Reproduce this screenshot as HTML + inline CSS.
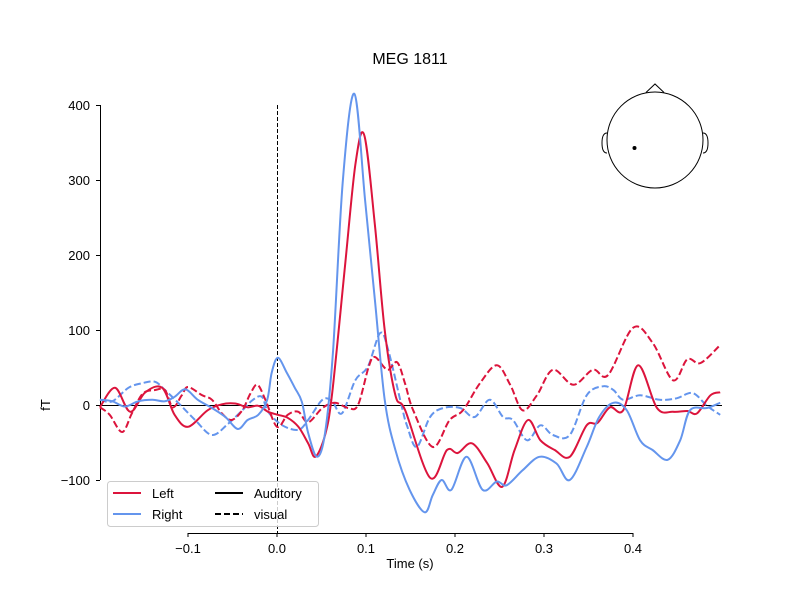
<!DOCTYPE html>
<html><head><meta charset="utf-8"><style>
body{margin:0;background:#fff}
svg{display:block;font-family:"Liberation Sans","DejaVu Sans",sans-serif}
</style></head><body>
<svg id="chart" width="800" height="600" viewBox="0 0 800 600">
<rect width="800" height="600" fill="#fff"/>
<text x="410" y="64" font-size="16" text-anchor="middle">MEG 1811</text>
<g id="axes"></g>
<g id="series"></g>
<g>
<rect x="107.5" y="481.5" width="211" height="45" rx="3" fill="#fff" fill-opacity="0.8" stroke="#ccc"/>
<line x1="113" y1="493" x2="141" y2="493" stroke="#dc143c" stroke-width="2"/>
<text x="152" y="498" font-size="13">Left</text>
<line x1="113" y1="514" x2="141" y2="514" stroke="#6495ed" stroke-width="2"/>
<text x="152" y="519" font-size="13">Right</text>
<line x1="215" y1="493" x2="243" y2="493" stroke="#000" stroke-width="2"/>
<text x="254" y="498" font-size="13">Auditory</text>
<line x1="215" y1="514" x2="243" y2="514" stroke="#000" stroke-width="2" stroke-dasharray="6,3"/>
<text x="254" y="519" font-size="13">visual</text>
</g>
<g fill="none" stroke="#000" stroke-width="1">
<circle cx="655" cy="140" r="48"/>
<path d="M646,92.5 L655,84 L664,92.5"/>
<path d="M607,133 Q602,133 602,143 Q602,153 607,153"/>
<path d="M703,133 Q708,133 708,143 Q708,153 703,153"/>
<circle cx="634.5" cy="148" r="2" fill="#000" stroke="none"/>
</g>
</svg>
<script>
const xTicks=[-0.1,0,0.1,0.2,0.3,0.4];
const yTicks=[-100,0,100,200,300,400];
const leftAudT=[-199,-182,-165,-148,-129,-115,-100,-78,-62,-47,-33,-21,-10,1,12,24,35,43,54,62,76,88,98,110,121,133,144,172,191,203,219,236,253,267,282,296,312,329,348,360,374,389,406,427,445,461,472,487,498];
const leftAudV=[-3,23,-9,17,23,-13,-29,-7,1,2,-3,-1,-9,-13,-17,-29,-51,-69,-40,16,180,320,360,240,100,13,-7,-97,-60,-64,-51,-77,-109,-60,-20,-47,-60,-69,-27,-24,-3,-7,53,-4,-9,-8,-11,13,17];
const rightAudT=[-199,-185,-171,-156,-140,-126,-115,-103,-89,-73,-58,-44,-33,-21,-11,-6,1,11,20,28,35,45,54,63,74,87,99,110,121,133,149,166,175,185,196,213,231,247,258,276,295,314,329,348,362,378,393,408,422,439,453,464,483,498];
const rightAudV=[7,5,-2,5,7,5,11,21,7,-4,-16,-32,-20,-13,7,43,63,43,23,4,-37,-69,-37,73,300,415,273,140,7,-60,-113,-143,-120,-100,-113,-69,-113,-102,-107,-87,-69,-78,-100,-56,-16,3,-7,-47,-60,-73,-47,-7,-4,3];
const leftVisT=[-199,-188,-174,-163,-151,-137,-126,-117,-107,-100,-84,-73,-62,-51,-39,-30,-22,-13,0,12,24,35,51,65,80,91,103,110,124,135,144,153,175,194,209,228,247,262,276,292,310,333,355,372,400,422,445,461,476,498];
const leftVisV=[-3,-13,-36,-11,15,20,20,-3,13,24,13,7,-11,-20,-7,15,27,7,-29,-13,-9,-23,-4,3,-4,0,51,64,47,57,28,-7,-56,-20,-7,29,53,27,-7,13,47,27,47,40,103,83,33,61,56,80];
const rightVisT=[-199,-185,-167,-152,-137,-126,-111,-92,-73,-55,-39,-27,-17,-10,6,24,35,51,62,73,88,102,116,125,140,146,157,172,187,206,222,239,254,265,281,296,310,329,348,366,378,389,408,430,449,467,483,498];
const rightVisV=[7,5,23,29,31,20,3,-20,-40,-25,-7,7,11,-9,-27,-33,-20,7,5,-11,33,51,96,73,-1,-27,-56,-16,-4,-4,-16,7,-16,-20,-47,-27,-40,-40,13,25,20,7,13,7,9,16,-1,-13];

const NS='http://www.w3.org/2000/svg';
const X=t=>277+t*890;
const Y=v=>405-v*0.75;
function mk(tag,attrs,parent){const e=document.createElementNS(NS,tag);for(const k in attrs)e.setAttribute(k,attrs[k]);parent.appendChild(e);return e;}
const axes=document.getElementById('axes');
let s=mk('line',{x1:100.5,y1:Y(400),x2:100.5,y2:Y(-100),stroke:'#000','stroke-width':1},axes);


s=mk('line',{x1:X(-0.1),y1:533.5,x2:X(0.4),y2:533.5,stroke:'#000','stroke-width':1},axes);


s=mk('line',{x1:100,y1:Y(0)+0.5,x2:722,y2:Y(0)+0.5,stroke:'#000','stroke-width':1},axes);


s=mk('line',{x1:X(0)+0.5,y1:Y(400),x2:X(0)+0.5,y2:533,stroke:'#000','stroke-width':1,'stroke-dasharray':'4,2'},axes);


yTicks.forEach(v=>{
  mk('line',{x1:96,y1:Y(v)+0.5,x2:100,y2:Y(v)+0.5,stroke:'#000'},axes);
  const t=mk('text',{x:90,y:Y(v)+5,'font-size':13,'text-anchor':'end'},axes);
  t.textContent=v<0?'\u2212'+(-v):String(v);
  
  
});
xTicks.forEach(v=>{
  mk('line',{x1:X(v),y1:533,x2:X(v),y2:537,stroke:'#000'},axes);
  const t=mk('text',{x:X(v),y:553,'font-size':13,'text-anchor':'middle'},axes);
  t.textContent=v<0?'\u2212'+(-v).toFixed(1):v.toFixed(1);
  
  
});
let lb=mk('text',{x:410,y:568,'font-size':13,'text-anchor':'middle'},axes);
lb.textContent='Time (s)';


lb=mk('text',{x:50,y:405,'font-size':13,'text-anchor':'middle',transform:'rotate(-90 50 405)'},axes);
lb.textContent='fT';



function path(ts,vs){
  const p=ts.map((t,i)=>[X(t/1000),Y(vs[i])]);
  let d='M'+p[0][0].toFixed(1)+','+p[0][1].toFixed(1);
  for(let i=0;i<p.length-1;i++){
    const p0=p[Math.max(0,i-1)],p1=p[i],p2=p[i+1],p3=p[Math.min(p.length-1,i+2)];
    const c1=[p1[0]+(p2[0]-p0[0])/6,p1[1]+(p2[1]-p0[1])/6];
    const c2=[p2[0]-(p3[0]-p1[0])/6,p2[1]-(p3[1]-p1[1])/6];
    d+=' C'+c1.map(n=>n.toFixed(1))+' '+c2.map(n=>n.toFixed(1))+' '+p2.map(n=>n.toFixed(1));
  }
  return d;
}
const ser=document.getElementById('series');
let l;
l=mk('path',{d:path(rightVisT,rightVisV),fill:'none',stroke:'#6495ed','stroke-width':2,'stroke-dasharray':'7,3'},ser);


l=mk('path',{d:path(leftVisT,leftVisV),fill:'none',stroke:'#dc143c','stroke-width':2,'stroke-dasharray':'7,3'},ser);


l=mk('path',{d:path(leftAudT,leftAudV),fill:'none',stroke:'#dc143c','stroke-width':2},ser);


l=mk('path',{d:path(rightAudT,rightAudV),fill:'none',stroke:'#6495ed','stroke-width':2},ser);


</script>
</body></html>
